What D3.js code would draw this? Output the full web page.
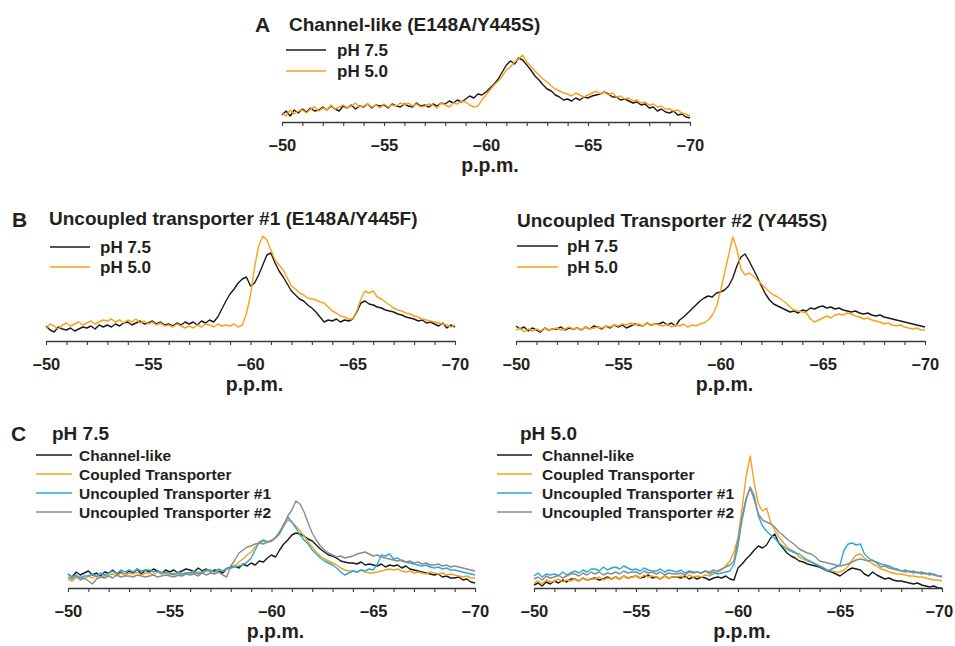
<!DOCTYPE html>
<html><head><meta charset="utf-8">
<script src="https://cdn.jsdelivr.net/npm/d3@7"></script>
<style>
body{margin:0;background:#fff;}
svg text{font-family:"Liberation Sans",Arial,Helvetica,sans-serif;font-weight:bold;fill:#231f20;}
</style></head><body>
<svg id="chart" width="955" height="646"></svg>
<script>
// chemical shift grid (p.p.m.)
const ppm = [-50,-50.2,-50.4,-50.6,-50.8,-51,-51.2,-51.4,-51.6,-51.8,-52,-52.2,-52.4,-52.6,-52.8,-53,-53.2,-53.4,-53.6,-53.8,-54,-54.2,-54.4,-54.6,-54.8,-55,-55.2,-55.4,-55.6,-55.8,-56,-56.2,-56.4,-56.6,-56.8,-57,-57.2,-57.4,-57.6,-57.8,-58,-58.2,-58.4,-58.6,-58.8,-59,-59.2,-59.4,-59.6,-59.8,-60,-60.2,-60.4,-60.6,-60.8,-61,-61.2,-61.4,-61.6,-61.8,-62,-62.2,-62.4,-62.6,-62.8,-63,-63.2,-63.4,-63.6,-63.8,-64,-64.2,-64.4,-64.6,-64.8,-65,-65.2,-65.4,-65.6,-65.8,-66,-66.2,-66.4,-66.6,-66.8,-67,-67.2,-67.4,-67.6,-67.8,-68,-68.2,-68.4,-68.6,-68.8,-69,-69.2,-69.4,-69.6,-69.8,-70];
const minorTicks = [-50,-51,-52,-53,-54,-55,-56,-57,-58,-59,-60,-61,-62,-63,-64,-65,-66,-67,-68,-69,-70];
const tickLabels = [-50,-55,-60,-65,-70];
const axisTitle = "p.p.m.";

// Panel A: Channel-like (E148A/Y445S)
const aPH75 = [7,11,6,12,9, 13,10,14,11,12, 15,12,16,13,11, 16,14,17,13,16, 15,18,14,17,16, 17,14,18,16,15, 18,16,15,19,16, 17,15,18,16,19, 18,21,19,22,20, 23,26,24,28,27, 30,34,38,43,50, 57,61,58,64,62, 57,52,46,42,37, 33,31,27,25,22, 23,21,24,22,25, 24,26,27,28,30, 28,25,25,22,23, 21,19,20,17,18, 14,15,11,13,10, 9,11,7,8,5, 4];
const aPH50 = [9,6,12,8,11, 12,9,13,15,11, 14,12,17,13,15, 17,14,16,19,15, 16,18,15,17,14, 18,15,17,16,19, 17,19,16,18,15, 16,18,17,14,19, 17,15,19,18,21, 20,17,15,16,22, 27,32,37,41,46, 52,55,60,63,67, 60,56,51,47,43, 40,36,33,31,29, 28,26,29,27,25, 27,29,31,28,30, 27,29,25,26,23, 24,21,22,19,20, 17,18,15,16,13, 13,11,12,9,8, 6];

// Panel B left: Uncoupled transporter #1 (E148A/Y445F)
const b1PH75 = [15,11,9,14,12, 11,13,10,12,14, 13,15,12,16,14, 16,14,17,15,18, 19,16,18,20,17, 18,20,17,19,16, 17,15,18,16,19, 17,19,16,20,18, 21,19,24,32,40, 47,52,58,62,64, 55,58,66,76,86, 88,78,70,64,57, 50,46,42,40,36, 33,29,24,19,21, 20,22,19,21,20, 22,29,38,40,37, 36,34,33,31,30, 29,27,26,24,23, 22,20,21,18,19, 17,15,18,13,16, 14];
const b1PH50 = [13,17,15,12,16, 18,15,17,19,16, 18,20,17,19,21, 20,22,19,21,18, 21,19,22,18,20, 17,19,16,18,15, 16,14,17,15,13, 15,13,16,14,17, 16,14,17,15,16, 15,17,14,16,27, 46,74,95,105,101, 91,81,76,71,63, 55,52,48,46,43, 42,41,39,38,34, 30,28,25,24,22, 22,30,42,50,48, 50,44,42,39,36, 33,31,30,28,27, 25,24,22,21,20, 19,18,17,16,14, 16];

// Panel B right: Uncoupled Transporter #2 (Y445S)
const b2PH75 = [15,12,14,10,13, 11,9,13,11,12, 12,14,11,13,12, 13,11,14,12,15, 14,12,15,13,16, 14,16,13,15,17, 16,15,18,16,17, 17,19,16,18,15, 21,24,28,32,36, 40,43,45,44,48, 49,51,55,63,75, 84,87,80,72,64, 55,47,41,37,35, 33,31,29,30,28, 31,30,33,32,34, 35,33,34,32,33, 31,30,29,30,28, 27,28,26,25,26, 24,23,22,21,20, 19,18,17,16,15, 14];
const b2PH50 = [11,13,9,12,10, 12,10,13,11,12, 13,11,12,14,12, 13,11,14,12,13, 14,13,15,14,16, 15,17,16,18,16, 17,15,18,16,17, 16,15,17,14,16, 15,17,14,16,15, 17,18,21,26,34, 50,68,86,104,92, 72,66,68,65,61, 57,53,49,46,44, 41,38,34,31,30, 29,28,22,19,21, 23,25,23,26,27, 26,28,27,25,24, 22,23,21,20,19, 17,18,16,15,16, 14,13,12,13,11, 11];

// Panel C left: pH 7.5
const c75Channel = [14,11,16,13,15, 17,13,15,12,16, 15,18,14,16,13, 17,15,19,14,18, 16,19,17,15,18, 16,18,15,17,19, 18,16,20,17,19, 16,18,17,15,19, 21,22,20,24,22, 25,23,27,26,30, 33,31,38,44,48, 53,55,54,52,49, 47,43,39,36,33, 32,30,27,26,25, 25,24,26,23,24, 23,22,24,21,23, 22,23,20,22,19, 18,17,16,15,14, 13,14,11,12,10, 10,11,8,9,6, 5];
const c75Coupled = [9,7,10,11,9, 12,10,13,11,12, 13,14,12,15,13, 15,14,16,13,15, 15,13,16,14,15, 13,15,12,14,15, 15,14,16,15,17, 17,16,18,17,19, 20,22,26,29,33, 36,41,45,47,46, 48,51,56,62,68, 66,62,57,52,46, 41,36,32,29,27, 25,23,20,18,17, 17,16,18,16,15, 15,16,17,18,19, 18,19,17,16,17, 15,16,15,14,16, 15,14,15,13,14, 13,12,11,12,10, 10];
const c75Uncoupled1 = [14,11,13,10,12, 12,14,11,15,13, 15,17,14,18,16, 18,16,19,17,18, 18,16,17,15,16, 15,13,16,14,15, 15,17,14,16,18, 18,16,19,17,20, 20,21,22,23,26, 30,38,46,48,46, 47,50,56,64,71, 66,60,53,48,44, 38,34,30,27,25, 23,20,16,13,15, 17,16,18,17,19, 18,24,33,32,34, 29,30,27,26,25, 24,23,22,23,21, 20,21,19,20,18, 18,17,16,15,14, 13];
const c75Uncoupled2 = [11,9,12,8,10, 7,4,9,11,10, 12,10,13,11,12, 12,11,13,12,11, 12,13,11,12,13, 12,11,13,12,14, 13,14,12,15,13, 15,14,16,13,11, 22,28,35,38,41, 42,44,45,44,46, 47,50,54,62,72, 78,87,84,76,65, 55,48,42,38,35, 33,31,32,30,31, 32,34,35,36,34, 32,33,31,30,29, 28,27,28,26,27, 25,26,24,25,23, 23,24,22,23,21, 22,21,20,19,18, 17];

// Panel C right: pH 5.0
const c50Channel = [3,5,2,6,4, 7,5,8,6,9, 9,7,10,8,9, 10,8,9,11,9, 11,9,12,10,11, 12,10,11,13,10, 11,9,12,10,11, 11,10,12,9,11, 9,11,10,8,10, 11,10,12,9,8, 20,24,29,33,38, 42,40,43,50,54, 45,40,35,32,30, 27,26,24,23,22, 21,19,17,16,14, 12,15,18,20,19, 18,14,12,16,13, 11,9,10,8,7, 7,6,5,4,5, 3,2,1,2,0, 0];
const c50Coupled = [5,7,4,8,6, 7,9,6,8,7, 9,7,10,8,9, 9,11,8,10,9, 11,9,12,10,11, 12,10,13,11,12, 11,9,12,10,11, 11,12,10,13,11, 12,11,13,12,14, 16,18,22,27,36, 50,80,112,132,104, 84,77,80,66,58, 51,46,41,38,36, 31,29,27,26,24, 22,20,18,17,16, 16,18,22,28,33, 34,30,27,24,22, 19,18,16,15,14, 14,13,12,12,11, 11,10,9,8,8, 7];
const c50Uncoupled1 = [12,15,11,14,13, 14,12,16,13,15, 17,15,18,16,19, 19,17,21,18,20, 21,19,22,20,18, 19,17,20,18,17, 17,19,16,18,17, 16,18,15,17,16, 16,15,17,14,16, 14,15,16,17,24, 42,68,88,101,92, 72,62,57,53,50, 45,42,39,37,35, 34,31,28,26,24, 22,20,17,19,21, 23,38,44,45,43, 44,34,30,27,26, 24,23,22,20,19, 17,18,16,17,15, 16,14,15,13,12, 11];
const c50Uncoupled2 = [9,11,8,12,10, 11,13,10,12,14, 14,12,15,13,16, 14,16,13,15,14, 16,14,17,15,16, 16,14,17,15,16, 14,16,13,15,14, 14,15,13,16,15, 16,15,17,16,18, 17,19,21,23,27, 48,72,90,100,88, 74,68,66,64,61, 56,53,49,46,43, 39,37,35,34,31, 27,26,25,24,23, 22,23,24,26,28, 29,28,27,28,25, 21,22,20,19,18, 17,16,17,15,16, 14,15,13,14,12, 12];

const COL = {black:"#1a1a1a", orange:"#f7a21b", blue:"#27aae1", grey:"#8c8c8c"};

const panels = [
  {x0:282, x1:690, axisY:122, letter:"A", letterX:255, letterY:32,
   title:"Channel-like (E148A/Y445S)", titleX:289, titleY:31,
   legX0:286, legX1:326, legTX:337, legY:[50,71], legFont:17,
   series:[{name:"pH 7.5", values:aPH75, color:COL.black},{name:"pH 5.0", values:aPH50, color:COL.orange}]},
  {x0:46, x1:455, axisY:341, letter:"B", letterX:12, letterY:227,
   title:"Uncoupled transporter #1 (E148A/Y445F)", titleX:49, titleY:225,
   legX0:50, legX1:90, legTX:100, legY:[247,267], legFont:17,
   series:[{name:"pH 7.5", values:b1PH75, color:COL.black},{name:"pH 5.0", values:b1PH50, color:COL.orange}]},
  {x0:516, x1:925, axisY:341, letter:null,
   title:"Uncoupled Transporter #2 (Y445S)", titleX:517, titleY:227,
   legX0:517, legX1:558, legTX:567, legY:[246,267], legFont:17,
   series:[{name:"pH 7.5", values:b2PH75, color:COL.black},{name:"pH 5.0", values:b2PH50, color:COL.orange}]},
  {x0:68, x1:475, axisY:588, letter:"C", letterX:11, letterY:441,
   title:"pH 7.5", titleX:52, titleY:440,
   legX0:36, legX1:72, legTX:79, legY:[455,474,493,512], legFont:15.5,
   series:[{name:"Channel-like", values:c75Channel, color:COL.black},
           {name:"Coupled Transporter", values:c75Coupled, color:COL.orange},
           {name:"Uncoupled Transporter #1", values:c75Uncoupled1, color:COL.blue},
           {name:"Uncoupled Transporter #2", values:c75Uncoupled2, color:COL.grey}]},
  {x0:534, x1:942, axisY:588, letter:null, lastLabelShift:-3,
   title:"pH 5.0", titleX:520, titleY:440,
   legX0:497, legX1:532, legTX:542, legY:[455,474,493,512], legFont:15.5,
   series:[{name:"Channel-like", values:c50Channel, color:COL.black},
           {name:"Coupled Transporter", values:c50Coupled, color:COL.orange},
           {name:"Uncoupled Transporter #1", values:c50Uncoupled1, color:COL.blue},
           {name:"Uncoupled Transporter #2", values:c50Uncoupled2, color:COL.grey}]}
];

const svg = d3.select("#chart");

panels.forEach(p => {
  const g = svg.append("g");
  const x = d3.scaleLinear().domain([-50, -70]).range([p.x0, p.x1]);
  const y = d3.scaleLinear().domain([0, 140]).range([p.axisY, p.axisY - 140]);

  // spectra
  const line = d3.line().x((d, i) => x(ppm[i])).y(d => y(d)).curve(d3.curveLinear);
  p.series.forEach(s => {
    g.append("path").datum(s.values)
      .attr("fill", "none").attr("stroke", s.color)
      .attr("stroke-width", 1.4).attr("stroke-linejoin", "round")
      .attr("d", line);
  });

  // axis
  const ax = g.append("g").attr("transform", `translate(0,${p.axisY})`)
    .call(d3.axisBottom(x).tickValues(minorTicks).tickSize(4).tickSizeOuter(0)
      .tickFormat(d => tickLabels.includes(d) ? "\u2013" + Math.abs(d) : ""));
  ax.select(".domain").attr("stroke", "#3a3a3a").attr("stroke-width", 1.6);
  ax.selectAll(".tick line").attr("stroke", "#3a3a3a").attr("stroke-width", 1.1);
  ax.selectAll(".tick text").attr("y", 29).attr("dy", 0)
    .attr("dx", d => (d === -70 && p.lastLabelShift) ? p.lastLabelShift : 0)
    .style("font-size", "16.5px").style("font-family", '"Liberation Sans",Arial,sans-serif')
    .style("font-weight", "bold").attr("fill", "#231f20");

  g.append("text").attr("x", (p.x0 + p.x1) / 2 + 4).attr("y", p.axisY + 50)
    .attr("text-anchor", "middle").style("font-size", "19.5px").text(axisTitle);

  // titles
  if (p.letter) {
    g.append("text").attr("x", p.letterX).attr("y", p.letterY)
      .style("font-size", "21px").text(p.letter);
  }
  g.append("text").attr("x", p.titleX).attr("y", p.titleY)
    .style("font-size", "19px").text(p.title);

  // legend
  p.series.forEach((s, k) => {
    const ly = p.legY[k];
    g.append("line").attr("x1", p.legX0).attr("x2", p.legX1)
      .attr("y1", ly).attr("y2", ly).attr("stroke", s.color).attr("stroke-width", 1.6);
    g.append("text").attr("x", p.legTX).attr("y", ly + p.legFont * 0.36)
      .style("font-size", p.legFont + "px").text(s.name);
  });
});
</script>
</body></html>
